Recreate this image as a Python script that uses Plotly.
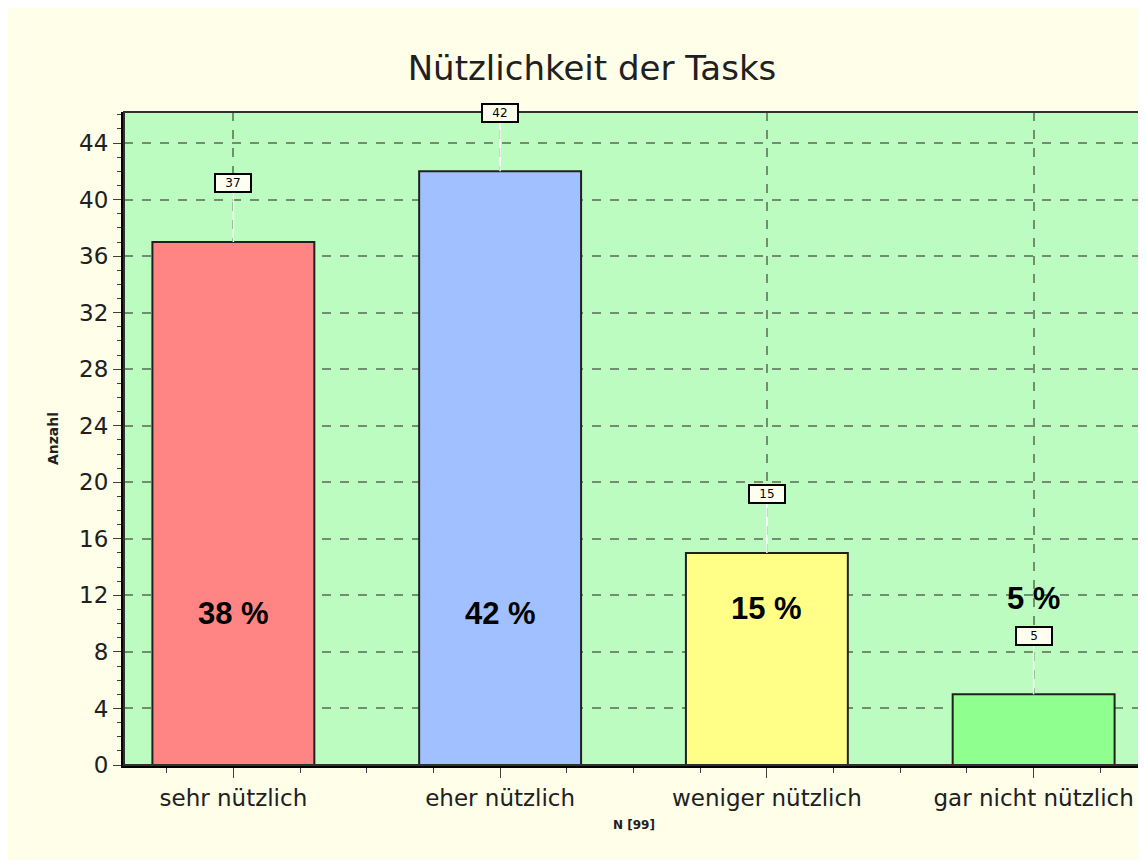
import plotly.graph_objects as go

categories = ["sehr nützlich", "eher nützlich", "weniger nützlich", "gar nicht nützlich"]
counts = [37, 42, 15, 5]
percent_labels = ["38 %", "42 %", "15 %", "5 %"]
percent_label_y = [10.75, 10.75, 11.1, 11.8]
bar_colors = ["#ff8585", "#a0c0ff", "#ffff88", "#8fff8f"]
y_ticks = list(range(0, 45, 4))

x_pos = list(range(len(categories)))
box_offset = 4.15

fig = go.Figure()
fig.add_trace(go.Bar(
    x=x_pos, y=counts, width=0.607,
    marker=dict(color=bar_colors, line=dict(color="#202020", width=2)),
    hoverinfo="skip", showlegend=False,
))

# white connector lines from bar tops to value boxes
for xi, v in zip(x_pos, counts):
    fig.add_shape(type="line", x0=xi, x1=xi, y0=v, y1=v + box_offset - 0.5,
                  xref="x", yref="y", line=dict(color="white", width=1.5), layer="above")
    fig.add_annotation(x=xi, y=v + box_offset, text=str(v), showarrow=False,
                       font=dict(family="DejaVu Sans", size=12, color="black"),
                       bgcolor="#fffff0", bordercolor="black", borderwidth=2,
                       borderpad=1, width=32, height=14)

for xi, t, yy in zip(x_pos, percent_labels, percent_label_y):
    fig.add_annotation(x=xi, y=yy, text="<b>" + t + "</b>", showarrow=False,
                       font=dict(family="Liberation Sans", size=31, color="black"))

fig.add_annotation(x=0.5, y=-0.105, xref="paper", yref="paper", text="<b>N [99]</b>",
                   showarrow=False, font=dict(family="DejaVu Sans", size=12, color="#202020"))

fig.update_layout(
    width=1146, height=860,
    margin=dict(l=116, r=11, t=104, b=103),
    paper_bgcolor="#fefee9",
    plot_bgcolor="#bdfcc0",
    title=dict(text="Nützlichkeit der Tasks", x=0.5096, xanchor="center", y=0.930, yanchor="middle",
               font=dict(family="DejaVu Sans", size=34, color="#202020")),
)
fig.update_xaxes(
    range=[-0.41, 3.41], tickvals=x_pos, ticktext=categories,
    tickfont=dict(family="DejaVu Sans", size=23, color="#202020"),
    ticks="outside", ticklen=10, tickcolor="#404040", tickwidth=1,
    showgrid=True, gridcolor="#6f8f6f", griddash="dash", gridwidth=1.5,
    showline=True, linecolor="black", linewidth=3, mirror=False,
    minor=dict(dtick=0.25, tick0=0, ticks="outside", ticklen=5, tickcolor="#404040", showgrid=False),
    zeroline=False, fixedrange=True,
)
fig.update_yaxes(
    range=[0, 46.2], tickvals=y_ticks,
    tickfont=dict(family="DejaVu Sans", size=23, color="#202020"),
    ticks="outside", ticklen=8, tickcolor="#404040",
    showgrid=True, gridcolor="#6f8f6f", griddash="dash", gridwidth=1.5,
    showline=True, linecolor="black", linewidth=3,
    minor=dict(dtick=1, ticks="outside", ticklen=4, tickcolor="#404040", showgrid=False),
    title=dict(text="<b>Anzahl</b>", font=dict(family="DejaVu Sans", size=14, color="#202020"), standoff=18),
    zeroline=False,
)
# thin frame on top and right
fig.add_shape(type="rect", xref="paper", yref="paper", x0=0, x1=1, y0=0, y1=1,
              line=dict(color="#303030", width=2), layer="above")

fig.write_html("out.html")
